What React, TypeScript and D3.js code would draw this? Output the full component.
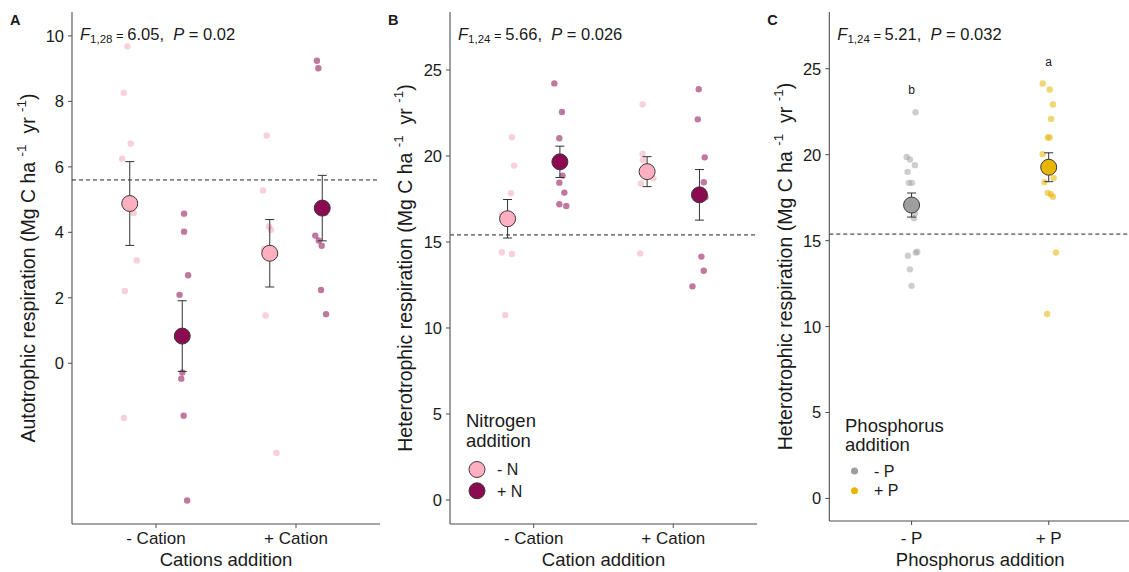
import React from "react";
import * as d3 from "d3";

// ---------------- DATA ----------------
const cationCats = ["- Cation", "+ Cation"];
const nLevels = ["- N", "+ N"];
const pCats = ["- P", "+ P"];

const ticksA = [0, 2, 4, 6, 8, 10];
const ticksBC = [0, 5, 10, 15, 20, 25];

// Panel A: autotrophic respiration, raw plot values
const autoMinusCatMinusN = [9.68, 8.26, 6.71, 6.25, 4.59, 3.14, 2.21, -1.67];
const autoMinusCatPlusN = [4.57, 4.02, 2.69, 2.09, -0.28, -0.47, -1.6, -4.19];
const autoPlusCatMinusN = [6.96, 5.28, 4.18, 4.08, 3.5, 3.3, 1.46, -2.74];
const autoPlusCatPlusN = [9.24, 9.01, 4.6, 3.9, 3.75, 3.59, 2.24, 1.5];
const autoJitMinusCatMinusN = [-0.017, -0.042, 0.007, -0.054, 0.028, 0.05, -0.035, -0.042];
const autoJitMinusCatPlusN = [0.013, 0.013, 0.042, -0.019, 0.001, -0.007, 0.01, 0.035];
const autoJitPlusCatMinusN = [-0.022, -0.048, -0.005, 0.009, -0.04, 0.033, -0.03, 0.048];
const autoJitPlusCatPlusN = [-0.038, -0.028, 0.02, -0.05, -0.025, -0.004, -0.009, 0.027];
const autoMeanMinusN = [4.88, 3.36];
const autoMeanPlusN = [0.83, 4.74];
const autoSeMinusN = [1.28, 1.03];
const autoSePlusN = [1.08, 1.0];
const autoRef = 5.6;

// Panel B: heterotrophic respiration by cation x nitrogen
const hetMinusCatMinusN = [21.09, 19.44, 17.83, 16.6, 16.2, 14.4, 14.3, 10.76];
const hetMinusCatPlusN = [24.22, 22.56, 21.03, 18.86, 18.45, 17.87, 17.19, 17.09];
const hetPlusCatMinusN = [23.0, 20.12, 19.77, 19.3, 19.0, 18.7, 18.4, 14.34];
const hetPlusCatPlusN = [23.88, 22.13, 19.92, 18.47, 17.6, 14.15, 13.33, 12.42];
const hetJitMinusCatMinusN = [0.031, 0.047, 0.024, -0.041, 0.033, -0.041, 0.031, -0.017];
const hetJitMinusCatPlusN = [-0.04, 0.015, -0.004, 0.019, -0.004, 0.032, -0.004, 0.046];
const hetJitPlusCatMinusN = [-0.032, -0.032, -0.03, 0.023, -0.02, 0.045, -0.044, -0.049];
const hetJitPlusCatPlusN = [-0.005, -0.012, 0.038, 0.031, 0.043, 0.014, 0.031, -0.05];
const hetMeanMinusN = [16.35, 19.09];
const hetMeanPlusN = [19.66, 17.74];
const hetSeMinusN = [1.12, 0.87];
const hetSePlusN = [0.91, 1.47];
const hetRef = 15.41;

// Panel C: heterotrophic respiration by phosphorus
const phosMinusP = [22.47, 19.87, 19.72, 19.39, 19.0, 18.36, 18.36, 16.6, 16.3, 14.35, 14.3, 14.12, 13.33, 12.37];
const phosPlusP = [24.14, 23.79, 22.92, 22.08, 21.0, 21.0, 20.03, 18.65, 18.4, 17.78, 17.7, 17.55, 14.31, 10.73];
const phosJitMinusP = [0.029, -0.036, -0.012, 0.024, -0.029, -0.02, 0.002, 0.025, 0.018, 0.041, 0.031, -0.027, -0.012, 0.0];
const phosJitPlusP = [-0.044, 0.007, 0.031, 0.017, -0.007, 0.007, -0.044, 0.036, -0.031, -0.007, 0.015, 0.031, 0.053, -0.012];
const phosMean = [17.07, 19.27];
const phosSe = [0.7, 0.84];
const phosRef = 15.38;
const phosLetters = ["b", "a"];
const phosLetterY = [23.8, 25.4];

// ---------------- STYLE ----------------
const FONT = "'Liberation Sans', Arial, Helvetica, sans-serif";
const TXT = "#1a1a1a";
const AX = "#4d4d4d";
const colMinusN = "#FFAFBF";
const colPlusN = "#8B0A50";
const rawMinusN = "#F4A0B8";
const colMinusP = "#9E9E9E";
const colPlusP = "#E8B500";

type Group = {
  cat: number;
  dodge: number;
  values: number[];
  jitter: number[];
  mean: number;
  se: number;
  fill: string;
  raw: string;
  rawOpacity: number;
};

type PanelProps = {
  letter: string;
  x0: number;
  x1: number;
  yTop: number;
  yBot: number;
  yDomain: [number, number];
  ticks: number[];
  cats: string[];
  groups: Group[];
  refLine: number;
  yTitle: string;
  yTitleX: number;
  xTitle: string;
  statSub: string;
  statF: string;
  statP: string;
  children?: React.ReactNode;
};

function Panel(p: PanelProps) {
  const x = d3.scaleLinear().domain([0.4, p.cats.length + 0.6]).range([p.x0, p.x1]);
  const y = d3.scaleLinear().domain(p.yDomain).range([p.yBot, p.yTop]);
  const yMid = (p.yTop + p.yBot) / 2;
  return (
    <g fontFamily={FONT}>
      {/* panel letter */}
      <text x={p.x0 - 62} y={25} fontSize={14.5} fontWeight="bold" fill={TXT}>
        {p.letter}
      </text>
      {/* stat annotation */}
      <text x={p.x0 + 8} y={40} fontSize={16.5} fill={TXT} style={{ whiteSpace: "pre" }}>
        <tspan fontStyle="italic">F</tspan>
        <tspan fontSize={11.5} dy={3}>{"1,"}</tspan>
        <tspan fontSize={11.5}>{p.statSub.split(",")[1]}</tspan>
        <tspan fontSize={13} dy={-3}>{" = "}</tspan>
        <tspan>{p.statF + ",  "}</tspan>
        <tspan fontStyle="italic">P</tspan>
        <tspan>{" = " + p.statP}</tspan>
      </text>
      {/* dashed reference line */}
      <line x1={p.x0} x2={p.x1} y1={y(p.refLine)} y2={y(p.refLine)} stroke="#222" strokeWidth={1} strokeDasharray="4,3" />
      {/* raw points */}
      {p.groups.map((g, gi) =>
        g.values.map((v, i) => (
          <circle
            key={`r${gi}-${i}`}
            cx={x(g.cat + 1 + g.dodge + g.jitter[i])}
            cy={y(v)}
            r={3.2}
            fill={g.raw}
            fillOpacity={g.rawOpacity}
          />
        ))
      )}
      {/* error bars */}
      {p.groups.map((g, gi) => {
        const cx = x(g.cat + 1 + g.dodge);
        const t = y(g.mean + g.se);
        const b = y(g.mean - g.se);
        return (
          <g key={`e${gi}`} stroke="#333" strokeWidth={1}>
            <line x1={cx} x2={cx} y1={t} y2={b} />
            <line x1={cx - 4.5} x2={cx + 4.5} y1={t} y2={t} />
            <line x1={cx - 4.5} x2={cx + 4.5} y1={b} y2={b} />
          </g>
        );
      })}
      {/* means */}
      {p.groups.map((g, gi) => (
        <circle key={`m${gi}`} cx={x(g.cat + 1 + g.dodge)} cy={y(g.mean)} r={8} fill={g.fill} stroke="#3a3a3a" strokeWidth={1} />
      ))}
      {/* axes */}
      <line x1={p.x0} x2={p.x0} y1={p.yTop} y2={p.yBot} stroke={AX} strokeWidth={1.1} />
      <line x1={p.x0} x2={p.x1} y1={p.yBot} y2={p.yBot} stroke={AX} strokeWidth={1.1} />
      {p.ticks.map((t) => (
        <g key={`yt${t}`}>
          <line x1={p.x0 - 4} x2={p.x0} y1={y(t)} y2={y(t)} stroke={AX} strokeWidth={1} />
          <text x={p.x0 - 8} y={y(t)} dy="0.36em" textAnchor="end" fontSize={16.5} fill={TXT}>
            {t}
          </text>
        </g>
      ))}
      {p.cats.map((c, i) => (
        <g key={`xt${i}`}>
          <line x1={x(i + 1)} x2={x(i + 1)} y1={p.yBot} y2={p.yBot + 4} stroke={AX} strokeWidth={1} />
          <text x={x(i + 1)} y={544} textAnchor="middle" fontSize={17} fill={TXT}>
            {c}
          </text>
        </g>
      ))}
      <text x={(p.x0 + p.x1) / 2} y={566} textAnchor="middle" fontSize={18.5} fill={TXT}>
        {p.xTitle}
      </text>
      <text
        transform={`translate(${p.yTitleX},${yMid}) rotate(-90)`}
        textAnchor="middle"
        fontSize={19.5}
        fill={TXT}
        style={{ whiteSpace: "pre" }}
      >
        {p.yTitle + " (Mg C ha "}
        <tspan fontSize={13.5} dy={-9}>{"-1"}</tspan>
        <tspan dy={9}>{"  yr "}</tspan>
        <tspan fontSize={13.5} dy={-9}>{"-1"}</tspan>
        <tspan dy={9}>{")"}</tspan>
      </text>
      {p.children}
    </g>
  );
}

const DODGE = 0.1875;

export default function App() {
  const groupsA: Group[] = [
    { cat: 0, dodge: -DODGE, values: autoMinusCatMinusN, jitter: autoJitMinusCatMinusN, mean: autoMeanMinusN[0], se: autoSeMinusN[0], fill: colMinusN, raw: rawMinusN, rawOpacity: 0.5 },
    { cat: 0, dodge: DODGE, values: autoMinusCatPlusN, jitter: autoJitMinusCatPlusN, mean: autoMeanPlusN[0], se: autoSePlusN[0], fill: colPlusN, raw: colPlusN, rawOpacity: 0.55 },
    { cat: 1, dodge: -DODGE, values: autoPlusCatMinusN, jitter: autoJitPlusCatMinusN, mean: autoMeanMinusN[1], se: autoSeMinusN[1], fill: colMinusN, raw: rawMinusN, rawOpacity: 0.5 },
    { cat: 1, dodge: DODGE, values: autoPlusCatPlusN, jitter: autoJitPlusCatPlusN, mean: autoMeanPlusN[1], se: autoSePlusN[1], fill: colPlusN, raw: colPlusN, rawOpacity: 0.55 },
  ];
  const groupsB: Group[] = [
    { cat: 0, dodge: -DODGE, values: hetMinusCatMinusN, jitter: hetJitMinusCatMinusN, mean: hetMeanMinusN[0], se: hetSeMinusN[0], fill: colMinusN, raw: rawMinusN, rawOpacity: 0.5 },
    { cat: 0, dodge: DODGE, values: hetMinusCatPlusN, jitter: hetJitMinusCatPlusN, mean: hetMeanPlusN[0], se: hetSePlusN[0], fill: colPlusN, raw: colPlusN, rawOpacity: 0.55 },
    { cat: 1, dodge: -DODGE, values: hetPlusCatMinusN, jitter: hetJitPlusCatMinusN, mean: hetMeanMinusN[1], se: hetSeMinusN[1], fill: colMinusN, raw: rawMinusN, rawOpacity: 0.5 },
    { cat: 1, dodge: DODGE, values: hetPlusCatPlusN, jitter: hetJitPlusCatPlusN, mean: hetMeanPlusN[1], se: hetSePlusN[1], fill: colPlusN, raw: colPlusN, rawOpacity: 0.55 },
  ];
  const groupsC: Group[] = [
    { cat: 0, dodge: 0, values: phosMinusP, jitter: phosJitMinusP, mean: phosMean[0], se: phosSe[0], fill: colMinusP, raw: colMinusP, rawOpacity: 0.5 },
    { cat: 1, dodge: 0, values: phosPlusP, jitter: phosJitPlusP, mean: phosMean[1], se: phosSe[1], fill: colPlusP, raw: colPlusP, rawOpacity: 0.55 },
  ];

  const yC = d3.scaleLinear().domain([-1.31, 28.3]).range([521, 12]);
  const xC = d3.scaleLinear().domain([0.4, 2.6]).range([829.3, 1131]);

  return (
    <svg width={1129} height={572} style={{ position: "absolute", left: 0, top: 0, background: "#fff" }}>
      <rect width={1129} height={572} fill="#fff" />
      <Panel
        letter="A"
        x0={72}
        x1={380}
        yTop={12}
        yBot={524}
        yDomain={[-4.91, 10.73]}
        ticks={ticksA}
        cats={cationCats}
        groups={groupsA}
        refLine={autoRef}
        yTitle="Autotrophic respiration"
        yTitleX={35}
        xTitle="Cations addition"
        statSub="1,28"
        statF="6.05"
        statP="0.02"
      />
      <Panel
        letter="B"
        x0={450}
        x1={757}
        yTop={12}
        yBot={524}
        yDomain={[-1.395, 28.37]}
        ticks={ticksBC}
        cats={cationCats}
        groups={groupsB}
        refLine={hetRef}
        yTitle="Heterotrophic respiration"
        yTitleX={412}
        xTitle="Cation addition"
        statSub="1,24"
        statF="5.66"
        statP="0.026"
      >
        <g fontFamily={FONT} fill={TXT}>
          <text x={466} y={427} fontSize={18.5}>Nitrogen</text>
          <text x={466} y={447} fontSize={18.5}>addition</text>
          {nLevels.map((lv, i) => (
            <g key={lv}>
              <circle cx={477} cy={469.5 + i * 21.3} r={8} fill={i === 0 ? colMinusN : colPlusN} stroke="#3a3a3a" strokeWidth={1} />
              <text x={497} y={469.5 + i * 21.3} dy="0.36em" fontSize={16}>{lv}</text>
            </g>
          ))}
        </g>
      </Panel>
      <Panel
        letter="C"
        x0={829.3}
        x1={1131}
        yTop={12}
        yBot={521}
        yDomain={[-1.31, 28.3]}
        ticks={ticksBC}
        cats={pCats}
        groups={groupsC}
        refLine={phosRef}
        yTitle="Heterotrophic respiration"
        yTitleX={792}
        xTitle="Phosphorus addition"
        statSub="1,24"
        statF="5.21"
        statP="0.032"
      >
        <g fontFamily={FONT} fill={TXT}>
          {phosLetters.map((l, i) => (
            <text key={l} x={xC(i + 1)} y={yC(phosLetterY[i])} dy="0.36em" textAnchor="middle" fontSize={12}>{l}</text>
          ))}
          <text x={845} y={432} fontSize={18.5}>Phosphorus</text>
          <text x={845} y={451} fontSize={18.5}>addition</text>
          {pCats.map((lv, i) => (
            <g key={lv}>
              <circle cx={854.5} cy={471 + i * 19.7} r={3.5} fill={i === 0 ? colMinusP : colPlusP} />
              <text x={874} y={471 + i * 19.7} dy="0.36em" fontSize={16}>{lv}</text>
            </g>
          ))}
        </g>
      </Panel>
    </svg>
  );
}
